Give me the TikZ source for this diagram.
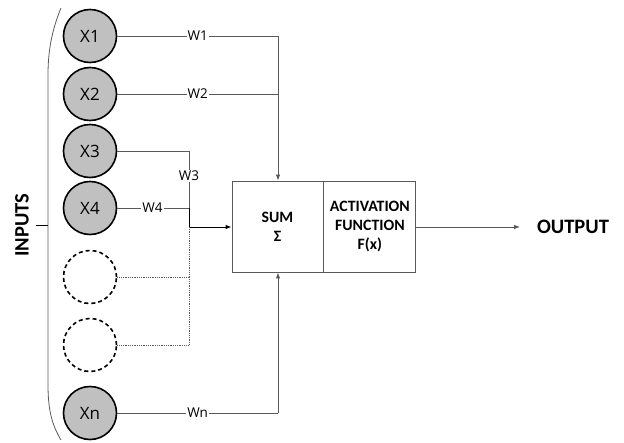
\documentclass[tikz,border=0pt]{standalone}
\usepackage{fontspec}
\setmainfont{Open Sans}
\newfontfamily\calib{Carlito}
\usetikzlibrary{arrows.meta}
\definecolor{cfill}{RGB}{192,192,192}
\definecolor{lgray}{RGB}{90,90,90}
\tikzset{
  inp/.style={circle, draw=black, line width=1.6pt, fill=cfill, minimum size=53pt, inner sep=0pt, font=\fontsize{17}{19}\selectfont},
  dinp/.style={circle, draw=black, line width=1.6pt, dash pattern=on 4pt off 3pt, minimum size=53pt, inner sep=0pt},
  conn/.style={draw=lgray, line width=0.8pt},
  dconn/.style={draw=lgray, line width=0.8pt, densely dotted},
  arr/.style={-{Latex[length=6pt,width=4.5pt]}},
  wlab/.style={fill=white, inner sep=1pt, font=\fontsize{13.5}{15}\selectfont},
  blk/.style={rectangle, draw=lgray, line width=0.9pt, minimum height=91pt, inner sep=0pt, align=center, font=\calib\bfseries\fontsize{15.8}{19}\selectfont},
  big/.style={font=\calib\bfseries\fontsize{20.5}{22}\selectfont}
}
\begin{document}
\begin{tikzpicture}[x=1pt,y=-1pt]
\useasboundingbox (0,0) rectangle (624,442);
% bracket
\draw[lgray, line width=0.8pt] (61,8) .. controls (52,30) and (48,50) .. (48,75) -- (48,385) .. controls (48,410) and (52,425) .. (61,440);
\coordinate (br) at (48,225);
\coordinate (brt) at (36,225);
\draw[black, line width=0.8pt] (brt) -- (br);
\node[big, rotate=90] (inputs) at (22,225) {INPUTS};
% inputs
\node[inp] (x1) at (90,36) {X1};
\node[inp] (x2) at (90,94) {X2};
\node[inp] (x3) at (90,151) {X3};
\node[inp] (x4) at (90,208) {X4};
\node[dinp] (d1) at (90,277) {};
\node[dinp] (d2) at (90,345) {};
\node[inp] (xn) at (90,413) {Xn};
% blocks
\node[blk, minimum width=91pt] (sum) at (277.5,226.5) {SUM\\Σ};
\node[blk, minimum width=92pt, anchor=west] (act) at (sum.east) {ACTIVATION\\FUNCTION\\F(x)};
% junctions
\coordinate (c1) at (278,36);
\coordinate (c2) at (278,94);
\coordinate (cn) at (278,413);
\coordinate (j3) at (189,151);
\coordinate (j4) at (189,208);
\coordinate (jA) at (189,227);
\coordinate (jd1) at (189,277);
\coordinate (jB) at (189,345);
\coordinate (sw) at (sum.west |- jA);
\coordinate (out) at (520,227);
% connectors
\draw[conn] (x1.east) -- node[wlab, pos=0.5] (w1) {W1} (c1);
\draw[conn, arr] (c1) -- (sum.north -| c1);
\draw[conn] (x2.east) -- node[wlab, pos=0.5] (w2) {W2} (c2);
\draw[conn] (x3.east) -- (j3) -- node[wlab, pos=0.44] (w3) {W3} (j4);
\draw[conn] (x4.east) -- node[wlab, pos=0.49] (w4) {W4} (j4);
\draw[black, line width=0.9pt] (j4) -- (jA);
\draw[black, line width=0.9pt, arr] (jA) -- (sw);
\draw[dconn] (jA) -- (jB);
\draw[dconn] (d1.east) -- (jd1);
\draw[dconn] (d2.east) -- (jB);
\draw[conn] (xn.east) -- node[wlab, pos=0.5] (wn) {Wn} (cn);
\draw[conn, arr] (cn) -- (sum.south -| cn);
\draw[conn, arr] (act.east |- out) -- (out);
\node[big] (output) at (573,227) {OUTPUT};
\end{tikzpicture}
\end{document}
